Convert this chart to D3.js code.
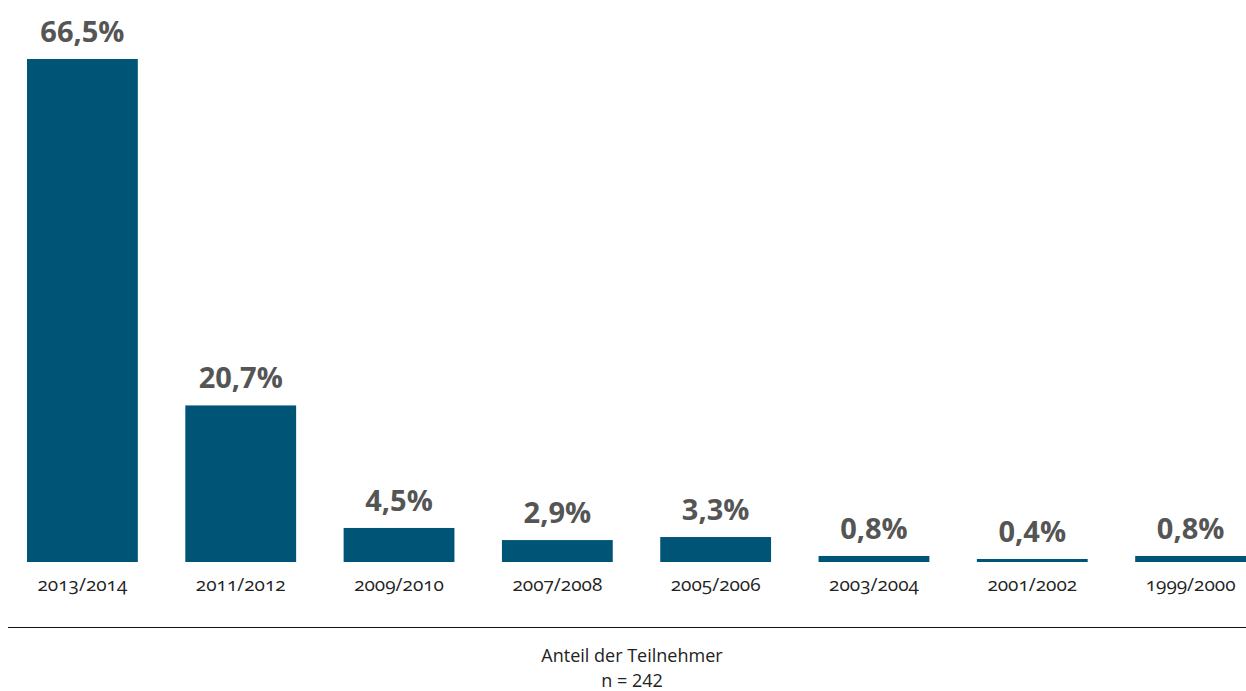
<!DOCTYPE html>
<html>
<head>
<meta charset="utf-8">
<script src="https://cdn.jsdelivr.net/npm/d3@7"></script>
<style>
  html, body { margin: 0; padding: 0; background: #fff; }
  svg { display: block; }
  .cat { font-family: "Open Sans", sans-serif; font-size: 19px; fill: #222; font-variant-numeric: oldstyle-nums; }
  .val { font-family: "Open Sans", sans-serif; font-size: 29px; font-weight: 700; fill: #555; }
  .note { font-family: "Open Sans", sans-serif; font-size: 18px; fill: #222; }
</style>
</head>
<body>
<svg id="chart" width="1246" height="691"></svg>
<script>
// Abschlussjahrgang und Anteil der Teilnehmer (%)
const categories = ["2013/2014", "2011/2012", "2009/2010", "2007/2008", "2005/2006", "2003/2004", "2001/2002", "1999/2000"];
const values = [66.5, 20.7, 4.5, 2.9, 3.3, 0.8, 0.4, 0.8];
const valueLabels = ["66,5%", "20,7%", "4,5%", "2,9%", "3,3%", "0,8%", "0,4%", "0,8%"];
const footerLines = ["Anteil der Teilnehmer", "n = 242"];

const svg = d3.select("#chart");
const baseY = 562;

const x = d3.scaleBand()
  .domain(categories)
  .range([27, 1246])
  .paddingInner(0.3)
  .paddingOuter(0);

const y = d3.scaleLinear()
  .domain([0, 66.5])
  .range([baseY, 59]);

// Balken
svg.append("g")
  .selectAll("rect")
  .data(values)
  .join("rect")
  .attr("x", (d, i) => x(categories[i]))
  .attr("y", d => y(d))
  .attr("width", x.bandwidth())
  .attr("height", d => baseY - y(d))
  .attr("fill", "#005577");

// Wertbeschriftungen
svg.append("g")
  .selectAll("text")
  .data(values)
  .join("text")
  .attr("class", "val")
  .attr("x", (d, i) => x(categories[i]) + x.bandwidth() / 2)
  .attr("y", d => y(d) - 17)
  .attr("text-anchor", "middle")
  .text((d, i) => valueLabels[i]);

// Kategorienachse (ohne Linie)
const axis = svg.append("g")
  .attr("transform", `translate(0,${baseY})`)
  .call(d3.axisBottom(x).tickSize(0).tickPadding(0));
axis.select(".domain").remove();
axis.selectAll("text")
  .attr("class", "cat")
  .attr("font-family", null)
  .attr("font-size", null)
  .attr("fill", null)
  .attr("dy", null)
  .attr("y", 29);

// Trennlinie
svg.append("line")
  .attr("x1", 8).attr("x2", 1246)
  .attr("y1", 627.5).attr("y2", 627.5)
  .attr("stroke", "#111")
  .attr("stroke-width", 1);

// Fußzeile
svg.append("g")
  .selectAll("text")
  .data(footerLines)
  .join("text")
  .attr("class", "note")
  .attr("x", 632)
  .attr("y", (d, i) => 662 + i * 24.5)
  .attr("text-anchor", "middle")
  .text(d => d);
</script>
</body>
</html>
